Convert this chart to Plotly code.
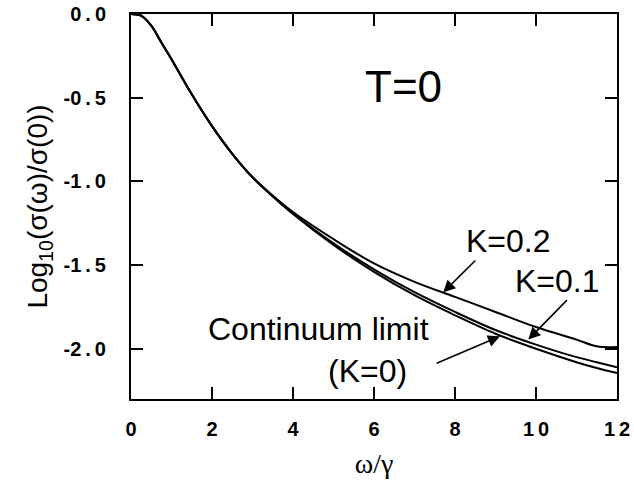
import plotly.graph_objects as go

# omega/gamma
w = [0, 0.25, 0.5, 0.75, 1.0, 1.5, 2.0, 2.5, 3.0, 3.5, 4.0, 5.0, 6.0, 7.0, 8.0, 9.0, 10.0, 11.0, 11.5, 12.0]
# Log10(sigma(w)/sigma(0))
k0 = [0, -0.01, -0.07, -0.17, -0.27, -0.48, -0.67, -0.835, -0.975, -1.09, -1.195, -1.38, -1.54, -1.68, -1.80, -1.91, -2.00, -2.08, -2.115, -2.145]
k01 = [0, -0.01, -0.07, -0.17, -0.27, -0.48, -0.67, -0.835, -0.975, -1.088, -1.19, -1.37, -1.525, -1.662, -1.78, -1.888, -1.975, -2.05, -2.08, -2.11]
k02 = [0, -0.01, -0.07, -0.17, -0.27, -0.48, -0.67, -0.835, -0.975, -1.085, -1.183, -1.345, -1.49, -1.60, -1.69, -1.78, -1.87, -1.945, -1.985, -1.99]

xtick_vals = [0, 2, 4, 6, 8, 10, 12]
xtick_text = ["0", "2", "4", "6", "8", "1\u20090", "1\u20092"]
ytick_vals = [0.0, -0.5, -1.0, -1.5, -2.0]
ytick_text = ["0\u2009.\u20090", "-0\u2009.\u20095", "-1\u2009.\u20090", "-1\u2009.\u20095", "-2\u2009.\u20090"]

SANS = "Liberation Sans, Arial"
tickfont = dict(family=SANS, size=20, color="black", weight="bold")

fig = go.Figure()
for ys in (k0, k01, k02):
    fig.add_trace(go.Scatter(x=w, y=ys, mode="lines", line=dict(color="black", width=2),
                             showlegend=False, line_shape="spline", hoverinfo="skip"))

axis_common = dict(showline=True, linecolor="black", linewidth=2, mirror="allticks",
                   ticks="inside", ticklen=12, tickwidth=2, tickcolor="black",
                   showgrid=False, zeroline=False, tickfont=tickfont, automargin=False)

fig.update_xaxes(range=[0, 12], tickvals=xtick_vals, ticktext=xtick_text, ticklabelstandoff=11,
                 title=dict(text="ω/γ", font=dict(family="Liberation Serif, Times New Roman", size=28, color="black"), standoff=14),
                 **axis_common)
fig.update_yaxes(range=[-2.3, 0], tickvals=ytick_vals, ticktext=ytick_text, ticklabelstandoff=19,
                 title=dict(text="Log<sub>10</sub>(σ(ω)/σ(0))", font=dict(family=SANS, size=28, color="black"), standoff=8),
                 **axis_common)

ann_font = dict(family=SANS, size=32, color="black")
fig.add_annotation(x=6.72, y=-0.436, text="T=0", showarrow=False, font=dict(family=SANS, size=44, color="black"))
fig.add_annotation(x=9.33, y=-1.356, text="K=0.2", showarrow=False, font=ann_font)
fig.add_annotation(x=10.52, y=-1.595, text="K=0.1", showarrow=False, font=ann_font)
fig.add_annotation(x=4.62, y=-1.88, text="Continuum limit", showarrow=False, font=ann_font)
fig.add_annotation(x=5.85, y=-2.13, text="(K=0)", showarrow=False, font=ann_font)

arrows = [
    (7.71, -1.663, 8.54, -1.464),
    (9.81, -1.945, 10.80, -1.70),
    (9.11, -1.925, 7.51, -2.09),
]
for (x, y, ax, ay) in arrows:
    fig.add_annotation(x=x, y=y, ax=ax, ay=ay, axref="x", ayref="y", text="",
                       showarrow=True, arrowhead=2, arrowsize=1.5, arrowwidth=1.6, arrowcolor="black")

fig.update_layout(width=634, height=492, margin=dict(l=131, r=17, t=14, b=93),
                  plot_bgcolor="white", paper_bgcolor="white")

fig.write_html("out.html", config={"displayModeBar": False},
               post_script="document.body.style.margin='0';")
